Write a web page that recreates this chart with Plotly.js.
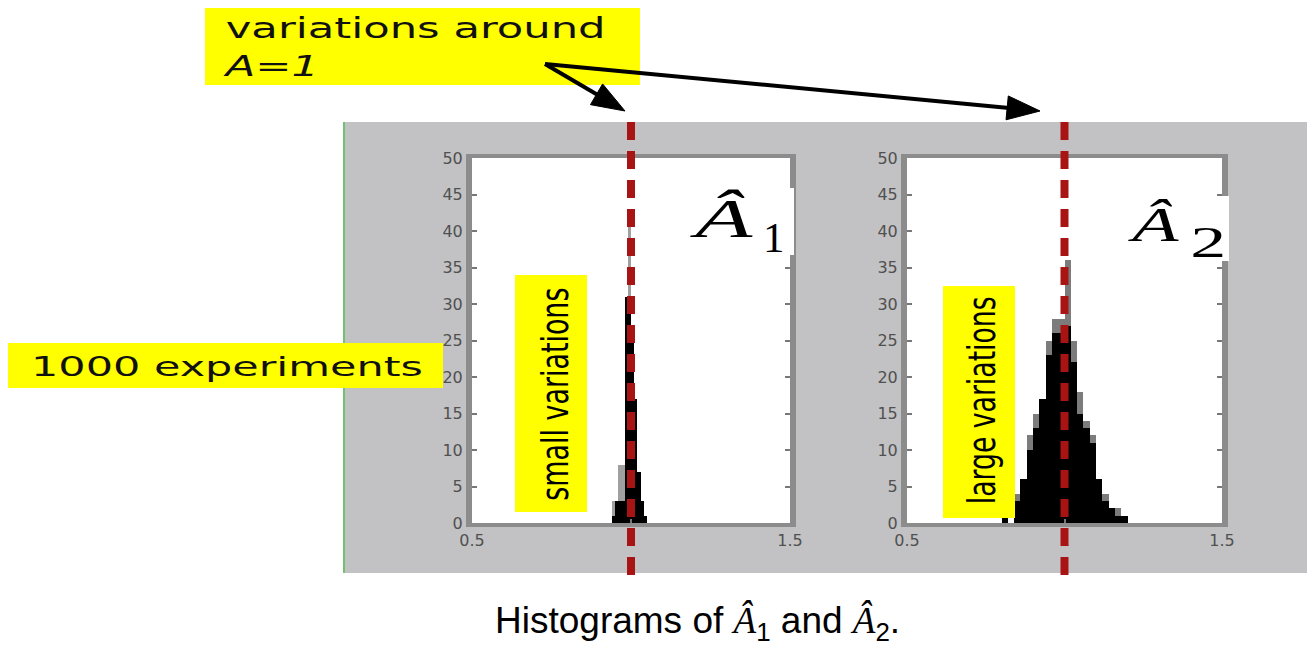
<!DOCTYPE html>
<html>
<head>
<meta charset="utf-8">
<script src="https://cdn.plot.ly/plotly-3.0.1.min.js"></script>
<style>
  html, body { margin: 0; padding: 0; background: #ffffff; }
  #chart { width: 1307px; height: 652px; }
</style>
</head>
<body>
<div id="chart"></div>
<script>
// Histogram of the first estimator (narrow spread around A = 1)
const binWidth1 = 0.01;
const binCenters1 = [0.945, 0.955, 0.965, 0.975, 0.985, 0.995, 1.005, 1.015, 1.025, 1.035, 1.045];
const countsA1Grey  = [3, 3, 8, 8, 31, 41, 26, 17, 7, 3, 1];
const countsA1Black = [1, 3, 3, 3, 31, 31, 26, 17, 7, 3, 1];

// Histogram of the second estimator (wide spread around A = 1)
const binWidth2 = 0.02;
const binCenters2 = [0.81, 0.83, 0.85, 0.87, 0.89, 0.91, 0.93, 0.95, 0.97, 0.99,
                     1.01, 1.03, 1.05, 1.07, 1.09, 1.11, 1.13, 1.15, 1.17, 1.19];
const countsA2Grey  = [1, 0, 4, 6, 12, 15, 17, 25, 28, 28, 36, 25, 18, 14, 12, 6, 4, 2, 2, 1];
const countsA2Black = [1, 0, 3, 6, 10, 13, 17, 23, 26, 26, 27, 22, 15, 13, 11, 6, 3, 2, 1, 1];

// True parameter value marked by the dashed lines
const trueA = 1;

// Axis ticks
const xTickVals = [0.5, 1, 1.5];
const xTickText = ['0.5', '1', '1.5'];
const yTickVals = [0, 5, 10, 15, 20, 25, 30, 35, 40, 45, 50];
const yTickText = ['0', '5', '10', '15', '20', '25', '30', '35', '40', '45', '50'];

// Text
const calloutText = 'variations around<br><i>A=1</i>';
const experimentsText = '1000 experiments';
const smallText = 'small variations';
const largeText = 'large variations';
const symbolA = '<i>Â</i>';
const subscript1 = '1';
const subscript2 = '2';
const captionText = 'Histograms of <span style="font-family:Liberation Serif"><i>Â</i></span><sub>1</sub> and ' +
                    '<span style="font-family:Liberation Serif"><i>Â</i></span><sub>2</sub>.';

// Page geometry helpers (pixel -> paper fraction)
const W = 1307, H = 652;
const px = v => v / W;
const py = v => 1 - v / H;

const panelGrey = '#c2c2c4';
const frameGrey = '#8c8c8c';
const barGreyLeft = '#a0a0a0';
const barGreyRight = '#7c7c7c';
const lineRed = '#a81414';
const yellow = '#ffff00';

const data = [
  { type: 'bar', x: binCenters1, y: countsA1Grey, width: binWidth1, xaxis: 'x', yaxis: 'y',
    marker: { color: barGreyLeft, line: { width: 0 } }, hoverinfo: 'skip' },
  { type: 'bar', x: binCenters1, y: countsA1Black, width: binWidth1, xaxis: 'x', yaxis: 'y',
    marker: { color: '#000000', line: { width: 0 } }, hoverinfo: 'skip' },
  { type: 'bar', x: binCenters2, y: countsA2Grey, width: binWidth2, xaxis: 'x2', yaxis: 'y2',
    marker: { color: barGreyRight, line: { width: 0 } }, hoverinfo: 'skip' },
  { type: 'bar', x: binCenters2, y: countsA2Black, width: binWidth2, xaxis: 'x2', yaxis: 'y2',
    marker: { color: '#000000', line: { width: 0 } }, hoverinfo: 'skip' }
];

const tickFont = { family: 'DejaVu Sans', size: 16, color: '#505050' };

function xAxis(domain, anchor) {
  return {
    domain: domain, anchor: anchor, range: [0.5, 1.5],
    tickmode: 'array', tickvals: xTickVals, ticktext: xTickText,
    showgrid: false, zeroline: false,
    showline: true, linecolor: frameGrey, linewidth: 4, mirror: true,
    ticks: 'inside', ticklen: 4, tickwidth: 2, tickcolor: '#777777',
    tickfont: tickFont, fixedrange: true
  };
}
function yAxis(domain, anchor) {
  return {
    domain: domain, anchor: anchor, range: [0, 50],
    tickmode: 'array', tickvals: yTickVals, ticktext: yTickText,
    showgrid: false, zeroline: false,
    showline: true, linecolor: frameGrey, linewidth: 6, mirror: 'ticks',
    ticks: 'inside', ticklen: 5, tickwidth: 2, tickcolor: '#777777',
    tickfont: tickFont, fixedrange: true
  };
}

const yDomain = [py(523), py(158)];

// Arrow drawn as a shaft plus a filled head, from tail to tip (pixel positions)
function arrowShapes(tail, tip, headLen, headHalf) {
  const dx = tip[0] - tail[0], dy = tip[1] - tail[1];
  const len = Math.hypot(dx, dy);
  const ux = dx / len, uy = dy / len;
  const bx = tip[0] - ux * headLen, by = tip[1] - uy * headLen;
  const p1 = [bx - uy * headHalf, by + ux * headHalf];
  const p2 = [bx + uy * headHalf, by - ux * headHalf];
  const P = p => px(p[0]) + ',' + py(p[1]);
  return [
    { type: 'line', xref: 'paper', yref: 'paper',
      x0: px(tail[0]), y0: py(tail[1]), x1: px(bx + ux * 2), y1: py(by + uy * 2),
      line: { color: '#000000', width: 4 }, layer: 'above' },
    { type: 'path', xref: 'paper', yref: 'paper',
      path: 'M' + P(tip) + ' L' + P(p1) + ' L' + P(p2) + ' Z',
      fillcolor: '#000000', line: { color: '#000000', width: 1 }, layer: 'above' }
  ];
}

const shapes = [
  // grey figure panel
  { type: 'rect', xref: 'paper', yref: 'paper', x0: px(343), x1: px(1307), y0: py(573), y1: py(122),
    fillcolor: panelGrey, line: { width: 0 }, layer: 'below' },
  { type: 'line', xref: 'paper', yref: 'paper', x0: px(344), x1: px(344), y0: py(573), y1: py(122),
    line: { color: '#72c072', width: 2 }, layer: 'below' },
  // white plotting areas
  { type: 'rect', xref: 'x domain', yref: 'y domain', x0: 0, x1: 1, y0: 0, y1: 1,
    fillcolor: '#ffffff', line: { width: 0 }, layer: 'below' },
  { type: 'rect', xref: 'x2 domain', yref: 'y2 domain', x0: 0, x1: 1, y0: 0, y1: 1,
    fillcolor: '#ffffff', line: { width: 0 }, layer: 'below' },
  // yellow label boxes
  { type: 'rect', xref: 'paper', yref: 'paper', x0: px(205), x1: px(640), y0: py(85), y1: py(8),
    fillcolor: yellow, line: { width: 0 }, layer: 'above' },
  { type: 'rect', xref: 'paper', yref: 'paper', x0: px(8), x1: px(443), y0: py(388), y1: py(343),
    fillcolor: yellow, line: { width: 0 }, layer: 'above' },
  { type: 'rect', xref: 'paper', yref: 'paper', x0: px(515), x1: px(587), y0: py(512), y1: py(275),
    fillcolor: yellow, line: { width: 0 }, layer: 'above' },
  { type: 'rect', xref: 'paper', yref: 'paper', x0: px(943), x1: px(1015), y0: py(518), y1: py(286),
    fillcolor: yellow, line: { width: 0 }, layer: 'above' },
  // white boxes behind the estimator symbols
  { type: 'rect', xref: 'paper', yref: 'paper', x0: px(683), x1: px(794), y0: py(255), y1: py(188),
    fillcolor: '#ffffff', line: { width: 0 }, layer: 'above' },
  { type: 'rect', xref: 'paper', yref: 'paper', x0: px(1115), x1: px(1229), y0: py(261), y1: py(196),
    fillcolor: '#ffffff', line: { width: 0 }, layer: 'above' },
  // dashed lines at the true value
  { type: 'line', xref: 'x', yref: 'paper', x0: trueA, x1: trueA, y0: py(575), y1: py(115),
    line: { color: lineRed, width: 8, dash: '18px,11px' }, layer: 'above' },
  { type: 'line', xref: 'x2', yref: 'paper', x0: trueA, x1: trueA, y0: py(575), y1: py(115),
    line: { color: lineRed, width: 8, dash: '18px,11px' }, layer: 'above' },
  // arrows from the callout towards the dashed lines
  ...arrowShapes([545, 64], [625, 111], 33, 12),
  ...arrowShapes([545, 64], [1040, 111], 33, 12)
];

const serif = 'Liberation Serif';
const annotations = [
  { text: calloutText, xref: 'paper', yref: 'paper', x: px(222), y: py(47), xanchor: 'left', yanchor: 'middle',
    align: 'left', showarrow: false, borderpad: 0,
    font: { family: 'DejaVu Sans', size: 29, color: '#111111' } },
  { text: experimentsText, xref: 'paper', yref: 'paper', x: px(30), y: py(366), xanchor: 'left', yanchor: 'middle',
    showarrow: false, borderpad: 0,
    font: { family: 'DejaVu Sans', size: 27, color: '#111111' } },
  { text: smallText, xref: 'paper', yref: 'paper', x: px(556), y: py(394), xanchor: 'center', yanchor: 'middle',
    textangle: -90, showarrow: false,
    font: { family: 'DejaVu Sans Condensed', size: 37, color: '#000000' } },
  { text: largeText, xref: 'paper', yref: 'paper', x: px(982), y: py(401), xanchor: 'center', yanchor: 'middle',
    textangle: -90, showarrow: false,
    font: { family: 'DejaVu Sans Condensed', size: 37, color: '#000000' } },
  // estimator symbols
  { text: symbolA, xref: 'paper', yref: 'paper', x: px(721), y: py(219), xanchor: 'center', yanchor: 'middle',
    showarrow: false, font: { family: serif, size: 54, color: '#000000' } },
  { text: subscript1, xref: 'paper', yref: 'paper', x: px(774), y: py(237), xanchor: 'center', yanchor: 'middle',
    showarrow: false, font: { family: serif, size: 43, color: '#000000' } },
  { text: symbolA, xref: 'paper', yref: 'paper', x: px(1153), y: py(224), xanchor: 'center', yanchor: 'middle',
    showarrow: false, font: { family: serif, size: 48, color: '#000000' } },
  { text: subscript2, xref: 'paper', yref: 'paper', x: px(1208), y: py(242), xanchor: 'center', yanchor: 'middle',
    showarrow: false, font: { family: serif, size: 45, color: '#000000' } },
  { text: captionText, xref: 'paper', yref: 'paper', x: px(697), y: py(623), xanchor: 'center', yanchor: 'middle',
    showarrow: false, font: { family: 'Liberation Sans', size: 37, color: '#000000' } }
];

const layout = {
  width: W, height: H,
  margin: { l: 0, r: 0, t: 0, b: 0 },
  paper_bgcolor: '#ffffff', plot_bgcolor: '#ffffff',
  showlegend: false, barmode: 'overlay', bargap: 0,
  xaxis: xAxis([px(472), px(790)], 'y'),
  yaxis: yAxis(yDomain, 'x'),
  xaxis2: xAxis([px(907), px(1222)], 'y2'),
  yaxis2: yAxis(yDomain, 'x2'),
  shapes: shapes,
  annotations: annotations
};

// Some texts are drawn widened or narrowed along their baseline to fill their boxes:
// annotation index -> [target length in px, transform origin]
const fittedText = {
  0: [383, 'left center'],
  1: [392, 'left center'],
  2: [213, 'center center'],
  3: [208, 'center center'],
  4: [64, 'center center'],
  6: [52, 'center center'],
  7: [36, 'center center']
};

Plotly.newPlot('chart', data, layout, { staticPlot: true, displayModeBar: false }).then(gd => {
  gd.querySelectorAll('.annotation').forEach(g => {
    const fit = fittedText[g.getAttribute('data-index')];
    if (!fit) return;
    const txt = g.querySelector('text.annotation-text');
    if (!txt) return;
    const w = txt.getBBox().width;
    if (!w) return;
    txt.style.transformBox = 'fill-box';
    txt.style.transformOrigin = fit[1];
    txt.style.transform = 'scaleX(' + (fit[0] / w).toFixed(3) + ')';
  });
});
</script>
</body>
</html>
